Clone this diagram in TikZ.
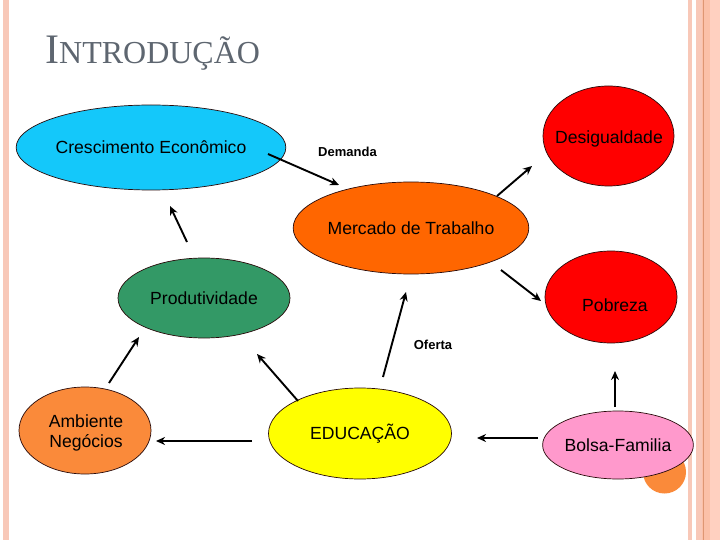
\documentclass[tikz,border=0pt]{standalone}
\usepackage{fontspec}
\setmainfont{Liberation Sans}
\newfontfamily\titlefont{Liberation Serif}
\usetikzlibrary{arrows.meta,shapes.geometric}
\definecolor{stripeA}{RGB}{248,200,184}
\definecolor{stripeB}{RGB}{251,192,168}
\definecolor{stripeC}{RGB}{255,208,192}
\definecolor{stripeLine}{RGB}{222,150,115}
\definecolor{titlegray}{RGB}{94,102,112}
\definecolor{cyanfill}{RGB}{20,200,250}
\definecolor{redfill}{RGB}{255,0,0}
\definecolor{mercfill}{RGB}{255,102,0}
\definecolor{greenfill}{RGB}{51,153,102}
\definecolor{yellowfill}{RGB}{255,255,0}
\definecolor{ambfill}{RGB}{250,138,58}
\definecolor{pinkfill}{RGB}{255,153,204}
\definecolor{edge}{RGB}{40,10,10}
\begin{document}
\begin{tikzpicture}[x=1pt,y=-1pt,
  bubble/.style={ellipse,draw=edge,line width=0.7pt,inner sep=0pt,align=center,
    font=\fontsize{17.6}{20}\selectfont},
  lbl/.style={inner sep=0pt,font=\fontsize{17.6}{20}\selectfont},
  small/.style={inner sep=0pt,font=\bfseries\fontsize{13}{15}\selectfont},
  arr/.style={line width=1.9pt,-{Stealth[length=9pt,width=8pt]}}]
\useasboundingbox (0,0) rectangle (720,540);
\fill[white] (0,0) rectangle (720,540);
% borders
\fill[stripeA] (3,0) rectangle (9,540);
\fill[stripeA] (688,0) rectangle (692,540);
\fill[stripeA] (696,0) rectangle (702,540);
\fill[stripeB] (702,0) rectangle (710,540);
\fill[stripeC] (710,0) rectangle (720,540);
\draw[stripeLine,line width=1pt] (703,0) -- (703,540);
% title
\node[anchor=base west,inner sep=0pt,text=titlegray] (title) at (45,64)
  {\titlefont{\fontsize{42}{42}\selectfont I}{\fontsize{32}{32}\selectfont NTRODUÇÃO}};
% ellipses
\node[bubble,fill=cyanfill,minimum width=216pt,minimum height=85pt] (cresc) at (151,147.5) {Crescimento Econômico};
\node[bubble,fill=redfill,minimum width=131pt,minimum height=100pt] (desig) at (608.5,136) {};
\node[lbl] (desigT) at (609,139) {Desigualdade};
\node[bubble,fill=mercfill,minimum width=194pt,minimum height=92pt] (merc) at (411,228) {Mercado de Trabalho};
\node[bubble,fill=greenfill,minimum width=172pt,minimum height=80pt] (prod) at (204,298) {Produtividade};
\node[bubble,fill=redfill,minimum width=132pt,minimum height=92pt] (pobr) at (611,297) {};
\node[lbl] (pobrT) at (615,305) {Pobreza};
\node[bubble,fill=yellowfill,minimum width=183pt,minimum height=91pt] (educ) at (360,433.5) {EDUCAÇÃO};
\node[bubble,fill=ambfill,minimum width=132pt,minimum height=87pt] (amb) at (85,430.5) {};
\node[lbl,align=center] (ambT) at (86,432.5) {Ambiente\\Negócios};
\fill[ambfill] (664.5,472) circle (21.5);
\node[bubble,fill=pinkfill,minimum width=132pt,minimum height=68pt] (bolsa) at (618,445) {Bolsa-Familia};
% labels
\node[small] (dem) at (347.5,152) {Demanda};
\node[small] (ofe) at (433,345) {Oferta};
% arrow end points
\coordinate (a1s) at (268,154); \coordinate (a1e) at (339,185);
\coordinate (a2s) at (497,196); \coordinate (a2e) at (532,166);
\coordinate (a3s) at (501,270); \coordinate (a3e) at (541,301);
\coordinate (a4s) at (383,377); \coordinate (a4e) at (406,292);
\coordinate (a5s) at (298,401); \coordinate (a5e) at (257,354);
\coordinate (a6s) at (187,242); \coordinate (a6e) at (170,206);
\coordinate (a7s) at (109,383); \coordinate (a7e) at (139,337);
\coordinate (a8s) at (252,441); \coordinate (a8e) at (156,441);
\coordinate (a9s) at (615,407); \coordinate (a9e) at (615,371);
\coordinate (a10s) at (538,438); \coordinate (a10e) at (477,438);
\draw[arr] (a1s) -- (a1e);
\draw[arr] (a2s) -- (a2e);
\draw[arr] (a3s) -- (a3e);
\draw[arr] (a4s) -- (a4e);
\draw[arr] (a5s) -- (a5e);
\draw[arr] (a6s) -- (a6e);
\draw[arr] (a7s) -- (a7e);
\draw[arr] (a8s) -- (a8e);
\draw[arr] (a9s) -- (a9e);
\draw[arr] (a10s) -- (a10e);
\end{tikzpicture}
\end{document}
